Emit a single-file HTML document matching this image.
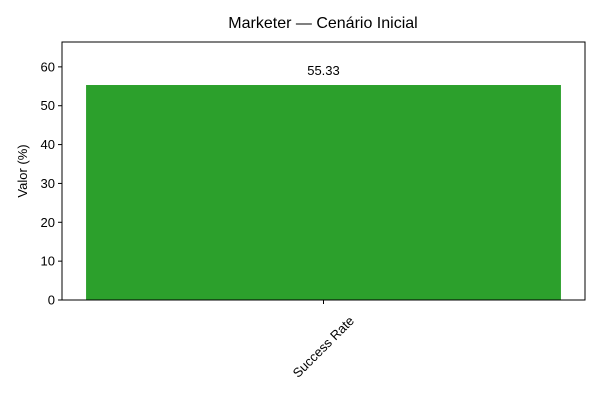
<!DOCTYPE html>
<html><head><meta charset="utf-8"><style>
body{margin:0;background:#fff;}
svg{display:block;font-family:"Liberation Sans","DejaVu Sans",sans-serif;}
</style></head><body>
<svg id="chart" width="600" height="400">
<rect width="600" height="400" fill="#fff"/>
<text x="323" y="28" text-anchor="middle" font-size="16" fill="#000">Marketer — Cenário Inicial</text>
<text transform="translate(27,171) rotate(-90)" text-anchor="middle" font-size="13" fill="#000">Valor (%)</text>
<g id="bars"></g>
<g id="yticks"></g>
<g id="xticks"></g>
<rect x="62" y="42" width="523" height="258" fill="none" stroke="#000" stroke-width="1"/>
</svg>
<script>
const categories = ["Success Rate"];
const values = [55.33];
const yTicks = [0, 10, 20, 30, 40, 50, 60];
const yMax = 66.4;

const L=62,R=585,T=42,B=300;
const NS="http://www.w3.org/2000/svg";
function y(v){return B-(v/yMax)*(B-T);}
const band=(R-L)/categories.length;
function xc(i){return L+band*(i+0.5);}
function mk(tag,attrs,parent){const e=document.createElementNS(NS,tag);for(const k in attrs)e.setAttribute(k,attrs[k]);parent.appendChild(e);return e;}
const bars=document.getElementById('bars'),yt=document.getElementById('yticks'),xt=document.getElementById('xticks');
const bw=band*0.908;
values.forEach((v,i)=>{
  const r=mk('rect',{x:xc(i)-bw/2,y:y(v),width:bw,height:B-y(v),fill:'#2ca02c'},bars);
  
  
  const t=mk('text',{x:xc(i),y:y(v)-10,'text-anchor':'middle','font-size':13,fill:'#000'},bars);
  t.textContent=v.toFixed(2);
  
  
});
yTicks.forEach(v=>{
  const l=mk('line',{x1:L-4,x2:L,y1:y(v),y2:y(v),stroke:'#000'},yt);
  
  
  const t=mk('text',{x:L-7,y:y(v)+4.5,'text-anchor':'end','font-size':13,fill:'#000'},yt);
  t.textContent=v;
  
  
});
categories.forEach((c,i)=>{
  const l=mk('line',{x1:xc(i),x2:xc(i),y1:B,y2:B+4,stroke:'#000'},xt);
  
  
  const t=mk('text',{transform:`translate(${xc(i)+3},${B+50}) rotate(-45)`,'text-anchor':'middle','font-size':13,fill:'#000'},xt);
  t.textContent=c;
  
  
});
</script>
</body></html>
